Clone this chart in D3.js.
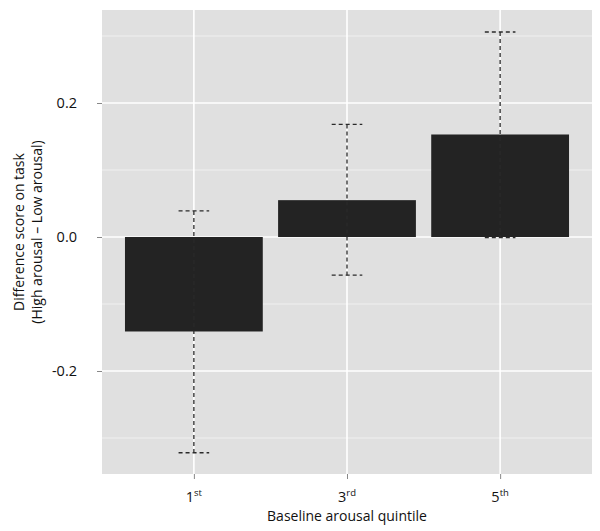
<!DOCTYPE html>
<html>
<head>
<meta charset="utf-8">
<script src="https://cdn.jsdelivr.net/npm/d3@7"></script>
<style>
  body { margin: 0; background: #fff; }
  text { font-family: "Open Sans", "Noto Sans", sans-serif; fill: #111; }
</style>
</head>
<body>
<div id="chart"></div>
<script>
// chart data
const quintiles = ["1", "3", "5"];
const suffixes = ["st", "rd", "th"];
const diffScores = [-0.141, 0.055, 0.153];
const ciLow = [-0.322, -0.057, -0.001];
const ciHigh = [0.039, 0.168, 0.306];
const majorTicks = [-0.2, 0.0, 0.2];
const minorTicks = [-0.3, -0.1, 0.1, 0.3];

const width = 600, height = 531;
const margin = {top: 10, right: 8, bottom: 57, left: 102};

const svg = d3.select("#chart")
    .append("svg")
    .attr("width", width)
    .attr("height", height);

const x = d3.scalePoint()
    .domain(quintiles)
    .range([margin.left, width - margin.right])
    .padding(0.6); // ggplot style expand

const step = x.step();
const barW = step * 0.9;
const capW = step * 0.2;

const y = d3.scaleLinear()
    .domain([-0.3537, 0.3388])
    .range([height - margin.bottom, margin.top]);

// panel background
svg.append("rect")
    .attr("x", margin.left)
    .attr("y", margin.top)
    .attr("width", width - margin.left - margin.right)
    .attr("height", height - margin.top - margin.bottom)
    .attr("fill", "#e0e0e0");

// minor + major grid
svg.append("g").selectAll("line")
    .data(minorTicks)
    .join("line")
    .attr("x1", margin.left).attr("x2", width - margin.right)
    .attr("y1", d => y(d)).attr("y2", d => y(d))
    .attr("stroke", "#f0f0f0")
    .attr("stroke-width", 1);

svg.append("g").selectAll("line")
    .data(majorTicks)
    .join("line")
    .attr("x1", margin.left).attr("x2", width - margin.right)
    .attr("y1", d => y(d)).attr("y2", d => y(d))
    .attr("stroke", "#fff")
    .attr("stroke-width", 1.6);

svg.append("g").selectAll("line")
    .data(quintiles)
    .join("line")
    .attr("x1", d => x(d)).attr("x2", d => x(d))
    .attr("y1", margin.top).attr("y2", height - margin.bottom)
    .attr("stroke", "#fff")
    .attr("stroke-width", 1.6);

// bars
svg.append("g").selectAll("rect")
    .data(quintiles)
    .join("rect")
    .attr("x", d => x(d) - barW / 2)
    .attr("width", barW)
    .attr("y", (d, i) => y(Math.max(0, diffScores[i])))
    .attr("height", (d, i) => Math.abs(y(diffScores[i]) - y(0)))
    .attr("fill", "#232323");

// dashed error bars
const err = svg.append("g")
    .attr("stroke", "#2a2a2a")
    .attr("stroke-width", 1.3)
    .attr("stroke-dasharray", "4,3")
    .attr("fill", "none");

quintiles.forEach((q, i) => {
  const cx = x(q);
  err.append("line")
      .attr("x1", cx).attr("x2", cx)
      .attr("y1", y(ciHigh[i])).attr("y2", y(ciLow[i]));
  [ciHigh[i], ciLow[i]].forEach(v => {
    err.append("line")
        .attr("x1", cx - capW / 2).attr("x2", cx + capW / 2)
        .attr("y1", y(v)).attr("y2", y(v));
  });
});

// y axis
const yAxis = svg.append("g")
    .attr("transform", `translate(${margin.left},0)`)
    .call(d3.axisLeft(y).tickValues(majorTicks).tickFormat(d3.format(".1f")).tickSize(5).tickPadding(20));
yAxis.select(".domain").remove();
yAxis.selectAll(".tick line").attr("stroke", "#888");
yAxis.selectAll(".tick text")
    .attr("font-size", 14.5)
    .attr("fill", "#111")
    .text(d => d === 0 ? "0.0" : d3.format(".1f")(d).replace("−", "-"));

// x axis
const xAxis = svg.append("g")
    .attr("transform", `translate(0,${height - margin.bottom})`)
    .call(d3.axisBottom(x).tickSize(5).tickFormat(""));
xAxis.select(".domain").remove();
xAxis.selectAll(".tick line").attr("stroke", "#888");

const xLabels = svg.append("g").selectAll("text")
    .data(quintiles)
    .join("text")
    .attr("x", d => x(d))
    .attr("y", height - margin.bottom + 28)
    .attr("text-anchor", "middle")
    .attr("font-size", 14.5);
xLabels.append("tspan").text(d => d);
xLabels.append("tspan")
    .attr("dy", -6)
    .attr("font-size", 9.5)
    .text((d, i) => suffixes[i]);

// axis titles
svg.append("text")
    .attr("x", (margin.left + width - margin.right) / 2)
    .attr("y", 521)
    .attr("text-anchor", "middle")
    .attr("font-size", 14)
    .text("Baseline arousal quintile");

const yTitle = svg.append("text")
    .attr("transform", `translate(24,${232}) rotate(-90)`)
    .attr("text-anchor", "middle")
    .attr("font-size", 14);
yTitle.append("tspan").attr("x", 0).attr("dy", 0).text("Difference score on task");
yTitle.append("tspan").attr("x", 0).attr("dy", 18).text("(High arousal \u2013 Low arousal)");
</script>
</body>
</html>
